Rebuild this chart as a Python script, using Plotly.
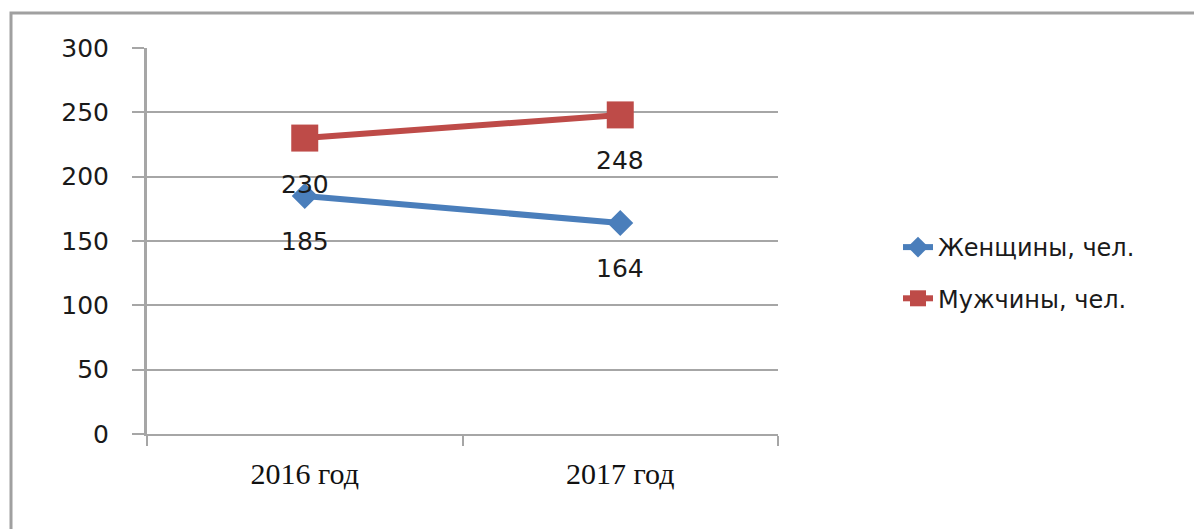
import plotly.graph_objects as go

# Data
years = ["2016 год", "2017 год"]
women = [185, 164]
men = [230, 248]
series_names = ["Женщины, чел.", "Мужчины, чел."]
y_ticks = [0, 50, 100, 150, 200, 250, 300]

# Layout geometry (pixels)
W, H = 1194, 529
L, R, T, B = 147, 416, 48, 95
pw, ph = W - L - R, H - T - B

def px_x(v):
    return (v - L) / pw

def px_y(v):
    return (H - B - v) / ph

blue = "#4A7EBB"
red = "#BE4B48"
grey = "#A6A6A6"
tick_font = dict(family="DejaVu Sans", size=25, color="#1a1a1a")

fig = go.Figure()
fig.add_trace(go.Scatter(
    x=years, y=women, name=series_names[0], mode="lines+markers",
    line=dict(color=blue, width=6),
    marker=dict(symbol="diamond", size=20, color=blue),
    legendgroup="w",
))
fig.add_trace(go.Scatter(
    x=years, y=men, name=series_names[1], mode="lines+markers",
    line=dict(color=red, width=6),
    marker=dict(symbol="square", size=27, color=red),
    legendgroup="m",
))

# Value labels below each point
annotations = []
for vals in (women, men):
    for cat, v in zip(years, vals):
        annotations.append(dict(
            x=cat, y=v, text=str(v), showarrow=False, yshift=-46,
            font=tick_font, xref="x", yref="y",
        ))

fig.update_layout(
    width=W, height=H,
    margin=dict(l=L, r=R, t=T, b=B),
    paper_bgcolor="white", plot_bgcolor="white",
    showlegend=True,
    legend=dict(
        x=px_x(898), y=px_y(273), xanchor="left", yanchor="middle",
        font=dict(family="DejaVu Sans", size=24, color="#1a1a1a"),
        traceorder="grouped", tracegroupgap=17,
        bgcolor="rgba(0,0,0,0)",
    ),
    annotations=annotations,
    shapes=[dict(
        type="rect", xref="paper", yref="paper",
        x0=px_x(11), x1=px_x(W + 20), y0=px_y(H + 20), y1=px_y(13),
        line=dict(color="#A0A0A0", width=3), layer="below",
    )],
)

fig.update_xaxes(
    type="category", range=[-0.5, len(years) - 0.5],
    showline=True, linecolor=grey, linewidth=2,
    ticks="outside", tickson="boundaries", ticklen=10, tickwidth=2, tickcolor=grey,
    showgrid=False, ticklabelstandoff=12,
    tickfont=dict(family="Liberation Serif", size=30, color="#111111"),
)
fig.update_yaxes(
    range=[0, 300], tickvals=y_ticks, showline=True, linecolor=grey, linewidth=3,
    ticks="outside", ticklen=12, tickwidth=2, tickcolor=grey,
    showgrid=True, gridcolor=grey, gridwidth=2, zeroline=False,
    ticklabelstandoff=18, tickfont=tick_font,
)

fig.write_html("out.html")
